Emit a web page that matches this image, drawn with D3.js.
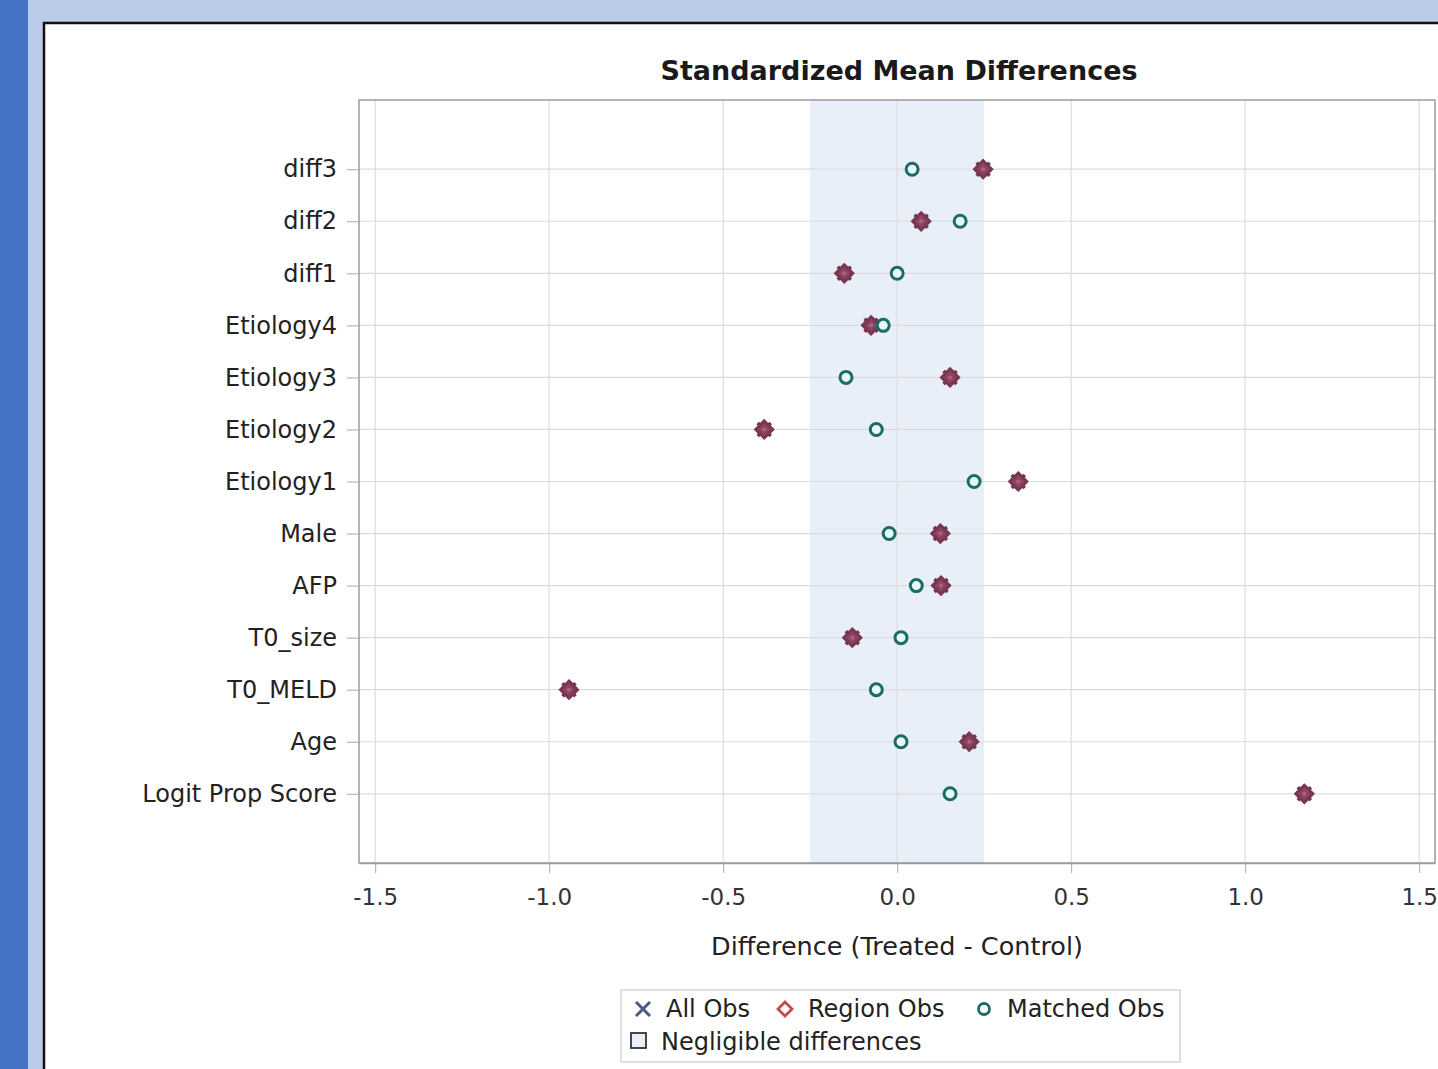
<!DOCTYPE html>
<html><head><meta charset="utf-8">
<script src="https://cdn.jsdelivr.net/npm/d3@7"></script>
<style>
html,body{margin:0;padding:0;background:#fff;}
svg text{font-family:"DejaVu Sans",Verdana,sans-serif;}
</style></head>
<body>
<svg id="c" width="1438" height="1069"></svg>
<script>
const categories = ["diff3","diff2","diff1","Etiology4","Etiology3","Etiology2","Etiology1","Male","AFP","T0_size","T0_MELD","Age","Logit Prop Score"];
const regionObs  = [0.247, 0.069, -0.152, -0.075, 0.152, -0.382, 0.348, 0.124, 0.126, -0.129, -0.943, 0.207, 1.170];
const allObs     = regionObs.slice();
const matchedObs = [0.043, 0.181, 0.0, -0.040, -0.147, -0.060, 0.221, -0.023, 0.055, 0.011, -0.060, 0.011, 0.152];
const xTicks = [-1.5, -1.0, -0.5, 0.0, 0.5, 1.0, 1.5];
const negligible = [-0.25, 0.25];
const legendItems = ["All Obs", "Region Obs", "Matched Obs", "Negligible differences"];

const svg = d3.select("#c");
// background frame
svg.append("rect").attr("x",0).attr("y",0).attr("width",1438).attr("height",1069).attr("fill","#bccbe8");
svg.append("rect").attr("x",0).attr("y",0).attr("width",28).attr("height",1069).attr("fill","#4672c4");
svg.append("rect").attr("x",44).attr("y",23).attr("width",1420).attr("height",1100).attr("fill","#fff").attr("stroke","#111").attr("stroke-width",2.5);

const L = 359, R = 1435, T = 100, B = 863;
const x = d3.scaleLinear().domain([-1.5465, 1.5455]).range([L, R]);
const y = d3.scalePoint().domain(categories).range([T, B]).padding(1.33);

// title
svg.append("text").attr("x", 899).attr("y", 80).attr("text-anchor","middle")
  .attr("font-size", 27).attr("font-weight","bold").attr("fill","#1a1a1a").text("Standardized Mean Differences");

// negligible band
svg.append("rect").attr("x", x(negligible[0])).attr("y", T).attr("width", x(negligible[1]) - x(negligible[0])).attr("height", B - T)
  .attr("fill","#e8eff8");

// gridlines
const g = svg.append("g");
g.selectAll(".vg").data(xTicks).join("line").attr("x1", d=>x(d)).attr("x2", d=>x(d)).attr("y1", T).attr("y2", B)
  .attr("stroke","#dcdcdc").attr("stroke-width",1.2);
g.selectAll(".hg").data(categories).join("line").attr("x1", L).attr("x2", R).attr("y1", d=>y(d)).attr("y2", d=>y(d))
  .attr("stroke","#dcdcdc").attr("stroke-width",1.2);

// frame
svg.append("rect").attr("x", L).attr("y", T).attr("width", R - L).attr("height", B - T)
  .attr("fill","none").attr("stroke","#9a9a9a").attr("stroke-width",1.5);

// axes
const xa = svg.append("g").attr("transform", `translate(0,${B})`)
  .call(d3.axisBottom(x).tickValues(xTicks).tickFormat(d3.format(".1f")).tickSize(10).tickSizeOuter(0).tickPadding(16));
xa.select(".domain").attr("stroke","#9a9a9a").attr("stroke-width",1.5);
xa.selectAll(".tick line").attr("stroke","#aaa");
xa.selectAll(".tick text").attr("font-size", 23).attr("fill","#333")
  .text(d => d3.format(".1f")(d).replace("−","-"));

const ya = svg.append("g").attr("transform", `translate(${L},0)`)
  .call(d3.axisLeft(y).tickSize(12).tickPadding(10));
ya.select(".domain").remove();
ya.selectAll(".tick line").attr("stroke","#aaa");
ya.selectAll(".tick text").attr("font-size", 24).attr("fill","#222");

svg.append("text").attr("x", 897).attr("y", 955).attr("text-anchor","middle").attr("font-size", 25.5).attr("fill","#222")
  .text("Difference (Treated - Control)");

// markers
const maroon = "#7a3550";
function drawX(sel, cx, cy, r, col, w){
  sel.append("path").attr("d", `M${cx-r},${cy-r}L${cx+r},${cy+r}M${cx-r},${cy+r}L${cx+r},${cy-r}`)
    .attr("stroke", col).attr("stroke-width", w).attr("fill","none");
}
function drawDiamond(sel, cx, cy, r, col, w, fill){
  sel.append("path").attr("d", `M${cx},${cy-r}L${cx+r},${cy}L${cx},${cy+r}L${cx-r},${cy}Z`)
    .attr("stroke", col).attr("stroke-width", w).attr("fill", fill);
}
const pts = svg.append("g");
categories.forEach((c,i)=>{
  const cy = y(c);
  drawX(pts, x(allObs[i]), cy, 6.5, "#6a3355", 3.5);
  drawDiamond(pts, x(regionObs[i]), cy, 8.5, maroon, 3, "#8c4560");
  pts.append("circle").attr("cx", x(regionObs[i])).attr("cy", cy).attr("r", 2).attr("fill","#b06080");
});
pts.selectAll(".m").data(matchedObs).join("circle")
  .attr("cx", d=>x(d)).attr("cy", (d,i)=>y(categories[i])).attr("r", 6)
  .attr("fill","#e6fbf8").attr("stroke","#1d6b66").attr("stroke-width",3);

// legend
const lg = svg.append("g");
lg.append("rect").attr("x", 621).attr("y", 990).attr("width", 559).attr("height", 72).attr("fill","#fff").attr("stroke","#ccc").attr("stroke-width",1.2);
drawX(lg, 643, 1009, 7, "#4d5a86", 3);
lg.append("text").attr("x", 666).attr("y", 1017).attr("font-size", 24).attr("fill","#222").text(legendItems[0]);
drawDiamond(lg, 785, 1009, 7, "#bf4b4e", 2.8, "#fff");
lg.append("text").attr("x", 808).attr("y", 1017).attr("font-size", 24).attr("fill","#222").text(legendItems[1]);
lg.append("circle").attr("cx", 984).attr("cy", 1009).attr("r", 5.5).attr("fill","#fff").attr("stroke","#1d6b66").attr("stroke-width",2.8);
lg.append("text").attr("x", 1007).attr("y", 1017).attr("font-size", 24).attr("fill","#222").text(legendItems[2]);
lg.append("rect").attr("x", 631).attr("y", 1033).attr("width", 15).attr("height", 15).attr("fill","#e8eff8").attr("stroke","#333").attr("stroke-width",1.8);
lg.append("text").attr("x", 661).attr("y", 1050).attr("font-size", 24).attr("fill","#222").text(legendItems[3]);
</script>
</body></html>
